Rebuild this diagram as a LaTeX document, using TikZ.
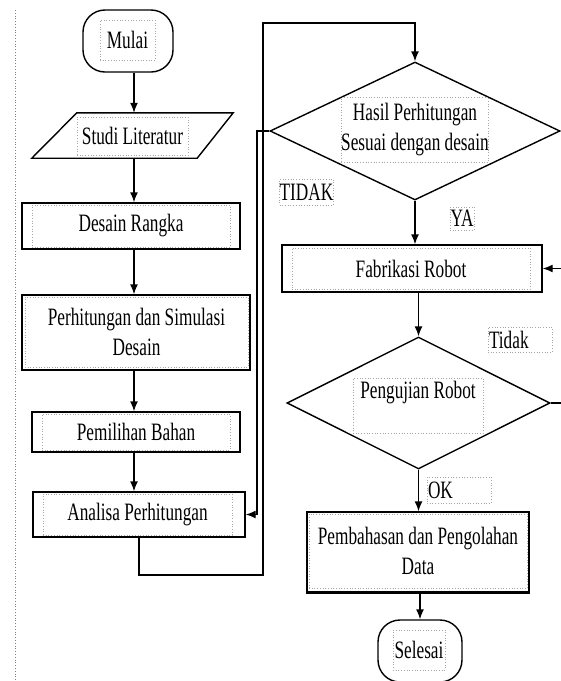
\documentclass[tikz,border=0pt]{standalone}
\usepackage{fontspec}
\setmainfont{Liberation Serif}[FakeStretch=0.69]
\usetikzlibrary{arrows.meta,shapes.geometric}
\begin{document}
\begin{tikzpicture}[x=1pt,y=-1pt,
  every node/.style={font=\fontsize{25}{30}\selectfont, inner sep=0pt},
  ln/.style={line width=1.4pt, black},
  arr/.style={ln, -{Latex[length=10pt,width=8pt]}},
  proc/.style={draw, line width=1.4pt},
  term/.style={draw, line width=1.4pt, rounded corners=22pt},
  dec/.style={diamond, draw, line width=1.4pt},
  frame/.style={draw=gray!70, dotted, line width=0.7pt, align=center}
]
\useasboundingbox (0,0) rectangle (561,681);
\clip (0,0) rectangle (561,681);
% left page guide
\draw[gray, dotted, line width=0.8pt] (15,10) -- (15,681);

% ---------- left column ----------
\node[term, minimum width=90pt, minimum height=62pt] (mulai) at (128,41) {};
\node[frame, minimum width=55pt, minimum height=40pt] (mulaiT) at (127.5,40) {Mulai};

\node[minimum width=201pt, minimum height=45pt] (studi) at (132.5,135.5) {};
\draw[ln] ([xshift=45pt]studi.north west) -- (studi.north east)
  -- ([xshift=-36pt]studi.south east) -- (studi.south west) -- cycle;
\node[frame, minimum width=111pt, minimum height=38pt] (studiT) at (132.5,136) {Studi Literatur};

\node[proc, minimum width=218pt, minimum height=46pt] (desain) at (131,226) {};
\node[frame, minimum width=198pt, minimum height=42pt] (desainT) at (131,226) {Desain Rangka};

\node[proc, minimum width=228pt, minimum height=75pt] (perhit) at (136,332.5) {};
\node[frame, minimum width=223pt, minimum height=70pt] (perhitT) at (136.5,332) {Perhitungan dan Simulasi\\Desain};

\node[proc, minimum width=208pt, minimum height=40pt] (pemilihan) at (136,432) {};
\node[frame, minimum width=188pt, minimum height=36pt] (pemilihanT) at (136,432) {Pemilihan Bahan};

\node[proc, minimum width=212pt, minimum height=45pt] (analisa) at (139,514.5) {};
\node[frame, minimum width=189pt, minimum height=41pt] (analisaT) at (137.5,514.5) {Analisa Perhitungan};

% ---------- right column ----------
\node[dec, minimum width=290pt, minimum height=138pt] (hasil) at (415,131) {};
\node[frame, minimum width=144pt, minimum height=65pt] (hasilT) at (415,129.5) {Hasil Perhitungan\\Sesuai dengan desain};

\node[frame, minimum width=53pt, minimum height=26pt] (tidakA) at (306.5,192) {TIDAK};
\node[frame, minimum width=24pt, minimum height=23pt] (ya) at (462,218.5) {YA};

\node[proc, minimum width=260pt, minimum height=47pt] (fabrikasi) at (412,268.5) {};
\node[frame, minimum width=238pt, minimum height=41pt] (fabrikasiT) at (411,268.5) {Fabrikasi Robot};

\node[dec, minimum width=263pt, minimum height=132pt] (pengujian) at (418.5,403) {};
\node[frame, minimum width=130pt, minimum height=55pt] (pengujianF) at (418,405.5) {};
\node (pengujianT) at (418,393) {Pengujian Robot};

\node[frame, minimum width=64pt, minimum height=25pt, text width=62pt, align=left] (tidakB) at (520,339.5) {Tidak};
\node[frame, minimum width=64pt, minimum height=26pt, text width=62pt, align=left] (ok) at (459,490) {OK};

\node[proc, minimum width=222pt, minimum height=80pt] (pembahasan) at (418,552) {};
\draw[line width=2.2pt] (pembahasan.south west) -- (pembahasan.south east);
\node[frame, minimum width=218pt, minimum height=74pt] (pembahasanT) at (418,551) {Pembahasan dan Pengolahan\\Data};

\node[term, minimum width=84pt, minimum height=62pt] (selesai) at (420,651) {};
\node[frame, minimum width=52pt, minimum height=40pt] (selesaiT) at (419,650) {Selesai};

% ---------- helper coordinates ----------
\coordinate (colL) at (134,0);
\coordinate (loopB) at (263,575);
\coordinate (loopT) at (263,23);
\coordinate (backL) at (257,0);
\coordinate (rightL) at (580,0);

% ---------- connectors ----------
\draw[arr] (mulai.south -| colL) -- (studi.north -| colL);
\draw[arr] (studi.south -| colL) -- (desain.north -| colL);
\draw[arr] (desain.south -| colL) -- (perhit.north -| colL);
\draw[arr] (perhit.south -| colL) -- (pemilihan.north -| colL);
\draw[arr] (pemilihan.south -| colL) -- (analisa.north -| colL);
\draw[arr] (analisa.south) |- (loopB) -- (loopT) -| (hasil.north);
\draw[arr] (hasil.west) -- (hasil.west -| backL) |- (analisa.east);
\draw[arr] (hasil.south) -- (hasil.south |- fabrikasi.north);
\draw[arr] (pengujian.north |- fabrikasi.south) -- (pengujian.north);
\draw[arr] (pengujian.east) -- (pengujian.east -| rightL) |- (fabrikasi.east);
\draw[arr] (pengujian.south) -- (pengujian.south |- pembahasan.north);
\draw[arr] (pembahasan.south -| selesai.north) -- (selesai.north);
\end{tikzpicture}
\end{document}
